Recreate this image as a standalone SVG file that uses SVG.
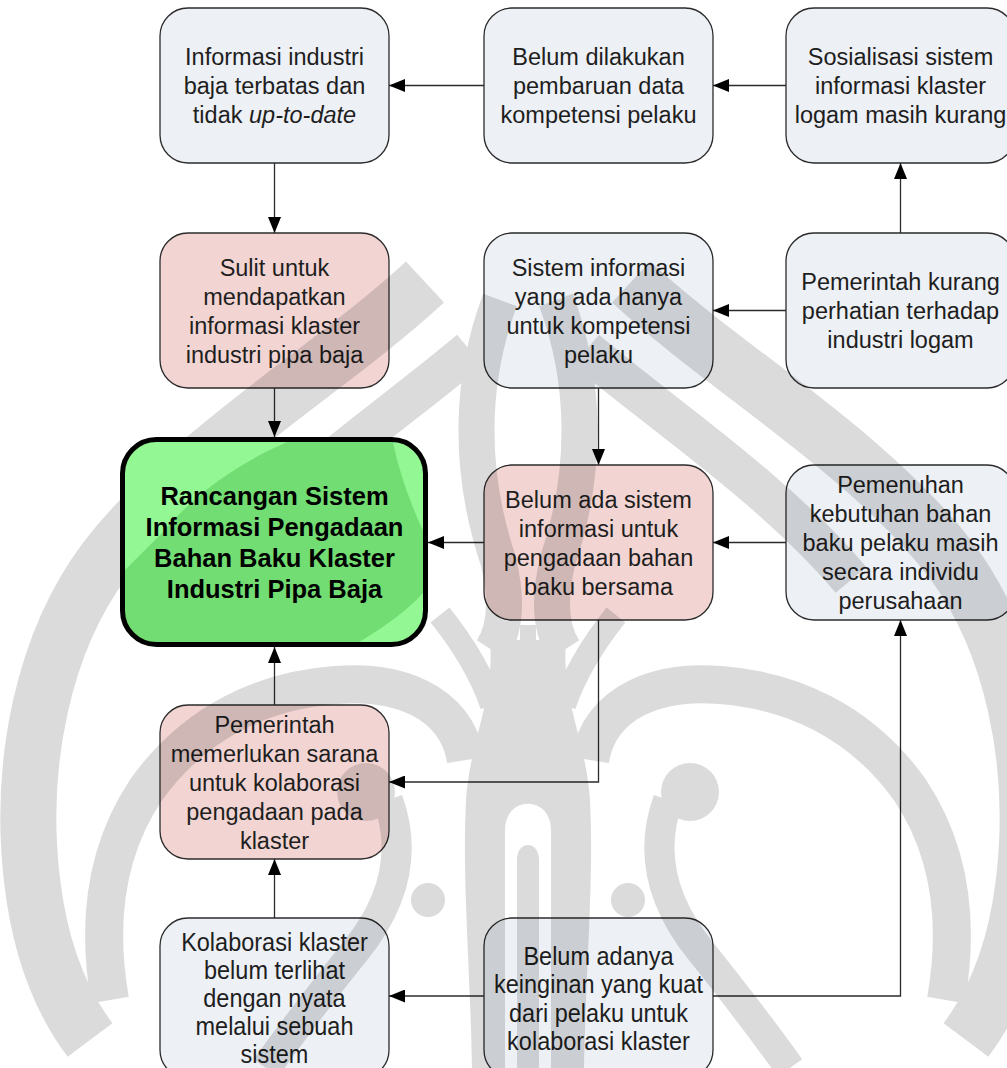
<svg xmlns="http://www.w3.org/2000/svg" xmlns:xlink="http://www.w3.org/1999/xlink" width="1007" height="1068" viewBox="0 0 1007 1068">
  <defs>
    <style>
      .box { stroke: #2b2b2b; stroke-width: 1.3; }
      .grey { fill: #EDF0F5; }
      .pink { fill: #F2D5D3; }
      .t { font-family: "Liberation Sans", Arial, sans-serif; font-size: 23.5px; fill: #1e1e1e; text-anchor: middle; }
      .tb { font-family: "Liberation Sans", Arial, sans-serif; font-size: 25.5px; font-weight: bold; fill: #000; text-anchor: middle; }
      .c { fill: none; stroke: #2b2b2b; stroke-width: 1.3; }
      .wm { fill: none; stroke: #000; }
    </style>
    <marker id="arrow" viewBox="0 0 16 13" refX="16" refY="6.5" markerWidth="16" markerHeight="13" markerUnits="userSpaceOnUse" orient="auto">
      <path d="M0,0 L16,6.5 L0,13 Z" fill="#000"/>
    </marker>
    <clipPath id="mainClip">
      <rect x="122.5" y="439.5" width="303" height="205" rx="34"/>
    </clipPath>
    <!-- one half of the background emblem; the other half is its mirror image -->
    <g id="wmHalf">
      <path class="wm" stroke-width="56" d="M 425 282 C 330 370, 190 450, 105 560 C 45 640, 18 760, 32 880 C 40 950, 60 1000, 90 1040"/>
      <path class="wm" stroke-width="40" d="M 470 350 C 400 410, 280 490, 205 580"/>
      <path class="wm" stroke-width="38" d="M 466 760 C 456 700, 396 680, 336 685 C 266 690, 196 720, 146 790 C 106 850, 96 920, 110 1000"/>
      <path class="wm" stroke-width="30" d="M 388 800 C 406 850, 396 900, 356 950 C 316 1000, 286 1040, 266 1068"/>
      <circle cx="366" cy="792" r="29" fill="#000"/>
      <circle cx="428" cy="900" r="17" fill="#000"/>
      <path class="wm" stroke-width="24" d="M 492 705 C 480 670, 460 640, 440 615"/>
      <path class="wm" stroke-width="36" d="M 500 300 C 470 380, 468 470, 498 560 C 508 600, 505 630, 492 650"/>
    </g>
  </defs>

  <rect width="1007" height="1068" fill="#FFFFFF"/>

  <!-- connectors -->
  <g id="connectors">
    <path class="c" d="M 484 85.5 H 389" marker-end="url(#arrow)"/>
    <path class="c" d="M 786 85.5 H 713" marker-end="url(#arrow)"/>
    <path class="c" d="M 274.5 163 V 233" marker-end="url(#arrow)"/>
    <path class="c" d="M 900.5 233 V 163" marker-end="url(#arrow)"/>
    <path class="c" d="M 786 310.5 H 713" marker-end="url(#arrow)"/>
    <path class="c" d="M 274.5 388 V 437" marker-end="url(#arrow)"/>
    <path class="c" d="M 598.5 388 V 465" marker-end="url(#arrow)"/>
    <path class="c" d="M 484 542.5 H 428" marker-end="url(#arrow)"/>
    <path class="c" d="M 786 542.5 H 713" marker-end="url(#arrow)"/>
    <path class="c" d="M 598.5 620 V 782 H 389" marker-end="url(#arrow)"/>
    <path class="c" d="M 274.5 705 V 647" marker-end="url(#arrow)"/>
    <path class="c" d="M 274.5 918 V 859" marker-end="url(#arrow)"/>
    <path class="c" d="M 484 996 H 389" marker-end="url(#arrow)"/>
    <path class="c" d="M 713 996 H 900.5 V 620" marker-end="url(#arrow)"/>
  </g>

  <!-- nodes -->
  <g id="n-informasi-industri">
    <rect class="box grey" x="160" y="8" width="229" height="155" rx="28"/>
    <text class="t" x="274.5" y="65">Informasi industri</text>
    <text class="t" x="274.5" y="94">baja terbatas dan</text>
    <text class="t" x="274.5" y="123">tidak <tspan font-style="italic">up-to-date</tspan></text>
  </g>
  <g id="n-belum-dilakukan">
    <rect class="box grey" x="484" y="8" width="229" height="155" rx="28"/>
    <text class="t" x="598.5" y="65">Belum dilakukan</text>
    <text class="t" x="598.5" y="94">pembaruan data</text>
    <text class="t" x="598.5" y="123">kompetensi pelaku</text>
  </g>
  <g id="n-sosialisasi">
    <rect class="box grey" x="786" y="8" width="229" height="155" rx="28"/>
    <text class="t" x="900.5" y="65">Sosialisasi sistem</text>
    <text class="t" x="900.5" y="94">informasi klaster</text>
    <text class="t" x="900.5" y="123">logam masih kurang</text>
  </g>
  <g id="n-sulit">
    <rect class="box pink" x="160" y="233" width="229" height="155" rx="28"/>
    <text class="t" x="274.5" y="275.5">Sulit untuk</text>
    <text class="t" x="274.5" y="304.5">mendapatkan</text>
    <text class="t" x="274.5" y="333.5">informasi klaster</text>
    <text class="t" x="274.5" y="362.5">industri pipa baja</text>
  </g>
  <g id="n-sistem-informasi">
    <rect class="box grey" x="484" y="233" width="229" height="155" rx="28"/>
    <text class="t" x="598.5" y="275.5">Sistem informasi</text>
    <text class="t" x="598.5" y="304.5">yang ada hanya</text>
    <text class="t" x="598.5" y="333.5">untuk kompetensi</text>
    <text class="t" x="598.5" y="362.5">pelaku</text>
  </g>
  <g id="n-pemerintah-kurang">
    <rect class="box grey" x="786" y="233" width="229" height="155" rx="28"/>
    <text class="t" x="900.5" y="290">Pemerintah kurang</text>
    <text class="t" x="900.5" y="319">perhatian terhadap</text>
    <text class="t" x="900.5" y="348">industri logam</text>
  </g>
  <g id="n-belum-ada-sistem">
    <rect class="box pink" x="484" y="465" width="229" height="155" rx="28"/>
    <text class="t" x="598.5" y="507.5">Belum ada sistem</text>
    <text class="t" x="598.5" y="536.5">informasi untuk</text>
    <text class="t" x="598.5" y="565.5">pengadaan bahan</text>
    <text class="t" x="598.5" y="594.5">baku bersama</text>
  </g>
  <g id="n-pemenuhan">
    <rect class="box grey" x="786" y="465" width="229" height="155" rx="28"/>
    <text class="t" x="900.5" y="493">Pemenuhan</text>
    <text class="t" x="900.5" y="522">kebutuhan bahan</text>
    <text class="t" x="900.5" y="551">baku pelaku masih</text>
    <text class="t" x="900.5" y="580">secara individu</text>
    <text class="t" x="900.5" y="609">perusahaan</text>
  </g>
  <g id="n-pemerintah-memerlukan">
    <rect class="box pink" x="160" y="705" width="229" height="154" rx="28"/>
    <text class="t" x="274.5" y="732.5">Pemerintah</text>
    <text class="t" x="274.5" y="761.5">memerlukan sarana</text>
    <text class="t" x="274.5" y="790.5">untuk kolaborasi</text>
    <text class="t" x="274.5" y="819.5">pengadaan pada</text>
    <text class="t" x="274.5" y="848.5">klaster</text>
  </g>
  <g id="n-kolaborasi">
    <rect class="box grey" x="160" y="918" width="229" height="160" rx="28"/>
    <g transform="translate(0,998) scale(1,1.1) translate(0,-998)">
      <text class="t" x="274.5" y="955.6">Kolaborasi klaster</text>
      <text class="t" x="274.5" y="981">belum terlihat</text>
      <text class="t" x="274.5" y="1006.5">dengan nyata</text>
      <text class="t" x="274.5" y="1032">melalui sebuah</text>
      <text class="t" x="274.5" y="1057.4">sistem</text>
    </g>
  </g>
  <g id="n-belum-adanya">
    <rect class="box grey" x="484" y="918" width="229" height="160" rx="28"/>
    <g transform="translate(0,998) scale(1,1.1) translate(0,-998)">
      <text class="t" x="598.5" y="967.6">Belum adanya</text>
      <text class="t" x="598.5" y="993.5">keinginan yang kuat</text>
      <text class="t" x="598.5" y="1019.5">dari pelaku untuk</text>
      <text class="t" x="598.5" y="1045.4">kolaborasi klaster</text>
    </g>
  </g>

  <!-- faint background emblem laid over the chart -->
  <g id="emblem" opacity="0.137">
    <use xlink:href="#wmHalf"/>
    <use xlink:href="#wmHalf" transform="translate(1056,0) scale(-1,1)"/>
    <path fill="#000" fill-rule="evenodd" d="M 490 640 C 495 700, 470 740, 466 800 C 462 880, 470 960, 472 1068 L 584 1068 C 586 960, 594 880, 590 800 C 586 740, 561 700, 566 640 Z M 505 1068 L 505 830 C 505 795, 551 795, 551 830 L 551 1068 Z M 517 1068 L 517 860 C 517 840, 539 840, 539 860 L 539 1068 Z"/>
    <path class="wm" stroke-width="16" d="M 528 700 V 625"/>
  </g>

  <!-- central goal node -->
  <g id="n-rancangan">
    <rect x="122.5" y="439.5" width="303" height="205" rx="34" fill="#72DD72"/>
    <g clip-path="url(#mainClip)" fill="#93F793">
      <path d="M 120 437 H 300 C 260 452, 205 482, 165 530 L 120 575 Z"/>
      <path d="M 392 437 H 430 V 545 C 412 510, 398 470, 392 437 Z"/>
      <path d="M 430 585 V 650 H 345 C 378 632, 410 610, 430 585 Z"/>
    </g>
    <rect x="122.5" y="439.5" width="303" height="205" rx="34" fill="none" stroke="#000" stroke-width="5"/>
    <text class="tb" x="274.5" y="504.5">Rancangan Sistem</text>
    <text class="tb" x="274.5" y="535.5">Informasi Pengadaan</text>
    <text class="tb" x="274.5" y="566.5">Bahan Baku Klaster</text>
    <text class="tb" x="274.5" y="597.5">Industri Pipa Baja</text>
  </g>
</svg>
